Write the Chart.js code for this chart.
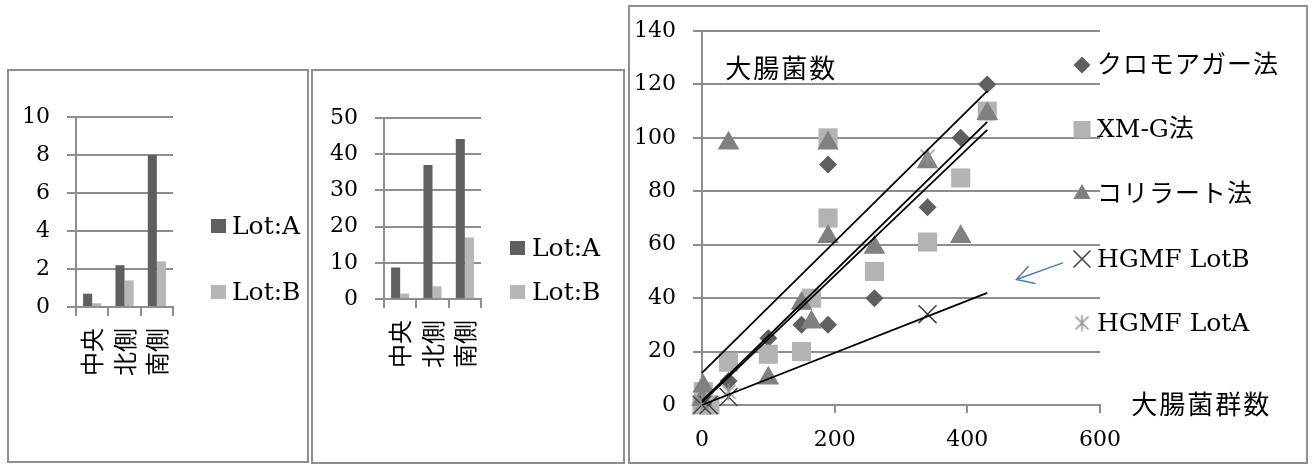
<!DOCTYPE html>
<html><head><meta charset="utf-8">
<script src="https://cdn.jsdelivr.net/npm/chart.js@4/dist/chart.umd.min.js"></script>
<style>
html,body{margin:0;padding:0;background:#fff}
body{width:1313px;height:465px;position:relative;overflow:hidden}
.panel{position:absolute;border:2px solid #8e8e8e;box-sizing:border-box;background:#fff}
canvas{display:block}
</style></head><body>
<div class="panel" style="left:7px;top:69px;width:302px;height:394px"><canvas id="c1" width="298" height="390" style="width:298px;height:390px"></canvas></div>
<div class="panel" style="left:311px;top:69px;width:314px;height:395px"><canvas id="c2" width="310" height="391" style="width:310px;height:391px"></canvas></div>
<div class="panel" style="left:628px;top:5px;width:680px;height:459px"><canvas id="c3" width="676" height="455" style="width:676px;height:455px"></canvas></div>
<script>
// ---------- data ----------
const barCategories = ['中央', '北側', '南側'];
const barSeriesNames = ['Lot:A', 'Lot:B'];
const panel1LotA = [0.7, 2.2, 8.0];
const panel1LotB = [0.2, 1.4, 2.4];
const panel2LotA = [8.7, 37, 44.2];
const panel2LotB = [1.5, 3.5, 17];
const panel1YTicks = [0, 2, 4, 6, 8, 10];
const panel2YTicks = [0, 10, 20, 30, 40, 50];

const scatterSeriesNames = ['クロモアガー法', 'XM-G法', 'コリラート法', 'HGMF LotB', 'HGMF LotA'];
const chromoX = [0, 5, 40, 100, 150, 190, 190, 260, 340, 390, 430];
const chromoY = [0, 2, 9, 25, 30, 30, 90, 40, 74, 100, 120];
const xmgX = [0, 2, 12, 40, 100, 150, 165, 190, 190, 260, 340, 390, 430];
const xmgY = [0, 5, 0, 16, 19, 20, 40, 70, 100, 50, 61, 85, 110];
const colilertX = [0, 2, 40, 100, 150, 165, 190, 190, 260, 340, 390, 430];
const colilertY = [2, 7, 98, 10, 38, 31, 63, 98, 59, 91, 63, 109];
const hgmfBX = [0, 10, 40, 340];
const hgmfBY = [0, 0, 3, 34];
const hgmfAX = [0, 40, 340];
const hgmfAY = [1, 5, 93];
const trendX = [0, 430];
const trend1Y = [12, 117.5];
const trend2Y = [1.5, 106];
const trend3Y = [1, 103];
const trend4Y = [0, 42];
const arrowShaftX = [544, 474];
const arrowShaftY = [53.2, 47];
const arrowHeadX = [492.6, 474, 502.7];
const arrowHeadY = [52, 47, 45.5];
const scatterXTicks = [0, 200, 400, 600];
const scatterYTicks = [0, 20, 40, 60, 80, 100, 120, 140];
const yTitle = '大腸菌数';
const xTitle = '大腸菌群数';

// ---------- styles ----------
const serif = '"DejaVu Serif", "Noto Sans CJK JP", serif';
const cjk = '"Noto Sans CJK JP", sans-serif';
const gridCol = '#8e8e8e';
const colA = '#5f5f5f';
const colB = '#b6b6b6';
const zip = (xs, ys) => xs.map((x, i) => ({x: x, y: ys[i]}));

Chart.defaults.color = '#000';

function barChart(id, dataA, dataB, yTicks, g) {
  const legendPlugin = {
    id: 'barLegend' + id,
    afterDraw(chart) {
      const ctx = chart.ctx, a = chart.chartArea;
      ctx.save();
      chart.data.datasets.forEach((ds, i) => {
        const cy = a.top + g.legY[i];
        ctx.fillStyle = ds.backgroundColor;
        ctx.fillRect(a.right + g.legMark, cy - 7, 15, 14);
        ctx.fillStyle = '#000';
        ctx.font = '25px ' + serif;
        ctx.textBaseline = 'middle';
        ctx.textAlign = 'left';
        ctx.fillText(ds.label, a.right + g.legText, cy + 1);
      });
      ctx.restore();
    }
  };
  return new Chart(document.getElementById(id), {
    type: 'bar',
    data: {
      labels: barCategories,
      datasets: [
        {label: barSeriesNames[0], data: dataA, backgroundColor: colA, categoryPercentage: 0.56, barPercentage: 1},
        {label: barSeriesNames[1], data: dataB, backgroundColor: colB, categoryPercentage: 0.56, barPercentage: 1}
      ]
    },
    options: {
      responsive: false, animation: false, events: [],
      layout: {autoPadding: false, padding: {top: g.top, right: g.right, bottom: 0, left: 0}},
      plugins: {legend: {display: false}, tooltip: {enabled: false}},
      scales: {
        x: {
          grid: {drawOnChartArea: false, drawTicks: true, tickLength: 9, color: gridCol, lineWidth: 2, offset: true},
          border: {display: true, color: gridCol, width: 2},
          ticks: {minRotation: 90, maxRotation: 90, autoSkip: false, padding: g.xPad, font: {family: cjk, size: 24}, color: '#000'},
          afterFit: s => { s.height = g.xH; }
        },
        y: {
          min: yTicks[0], max: yTicks[yTicks.length - 1],
          grid: {color: gridCol, lineWidth: 2, tickLength: 9},
          border: {display: true, color: gridCol, width: 2},
          ticks: {padding: 17, font: {family: serif, size: 22}, color: '#000'},
          afterBuildTicks: s => { s.ticks = yTicks.map(v => ({value: v})); },
          afterFit: s => { s.width = g.yW; s.paddingTop = 0; s.paddingBottom = 0; }
        }
      }
    },
    plugins: [legendPlugin]
  });
}

barChart('c1', panel1LotA, panel1LotB, panel1YTicks,
  {top: 46, right: 134, yW: 67, xH: 154, xPad: 12, legMark: 38, legText: 59, legY: [109, 175]});
barChart('c2', panel2LotA, panel2LotB, panel2YTicks,
  {top: 47, right: 142, yW: 71, xH: 163, xPad: 12, legMark: 29, legText: 51, legY: [130, 174]});

// ---------- scatter ----------
function makeAsterisk(size, color) {
  const c = document.createElement('canvas');
  c.width = size; c.height = size;
  const g = c.getContext('2d');
  const m = size / 2, d = size / 2 - 2;
  g.strokeStyle = color; g.lineWidth = 1.6;
  g.beginPath();
  g.moveTo(m - d, m - d); g.lineTo(m + d, m + d);
  g.moveTo(m + d, m - d); g.lineTo(m - d, m + d);
  g.moveTo(m, 0.5); g.lineTo(m, size - 0.5);
  g.stroke();
  return c;
}
const asteriskPlot = makeAsterisk(18, '#959595');
const asteriskLegend = makeAsterisk(17, '#959595');

const seriesStyles = [
  {pointStyle: 'rectRot', radius: 9, bg: '#5f5f5f', bw: 0, legR: 8.5},
  {pointStyle: 'rect', radius: 13.5, bg: '#b3b3b3', bw: 0, legR: 12},
  {pointStyle: 'triangle', radius: 12.5, bg: '#808080', bw: 0, legR: 10},
  {pointStyle: 'crossRot', radius: 12.7, bg: '#404040', bw: 1.5, legR: 12},
  {pointStyle: asteriskPlot, radius: 9, bg: '#959595', bw: 1.5, legR: 9, legImg: asteriskLegend}
];
const seriesData = [zip(chromoX, chromoY), zip(xmgX, xmgY), zip(colilertX, colilertY), zip(hgmfBX, hgmfBY), zip(hgmfAX, hgmfAY)];

const scatterSets = seriesData.map((d, i) => ({
  label: scatterSeriesNames[i], data: d,
  pointStyle: seriesStyles[i].pointStyle, pointRadius: seriesStyles[i].radius,
  backgroundColor: seriesStyles[i].bg, borderColor: seriesStyles[i].bg,
  borderWidth: seriesStyles[i].bw, showLine: false, clip: false, order: 10 - i
}));
const lineSet = (ys, col, w) => ({
  data: zip(trendX, ys), showLine: true, pointRadius: 0, borderColor: col, borderWidth: w,
  backgroundColor: col, clip: false, order: 0, fill: false
});
const trendSets = [trend1Y, trend2Y, trend3Y, trend4Y].map(ys => lineSet(ys, '#000', 1.8));
const arrowSets = [
  {data: zip(arrowShaftX, arrowShaftY), showLine: true, pointRadius: 0, borderColor: '#4a7ebb', borderWidth: 1.5, clip: false, order: 0},
  {data: zip(arrowHeadX, arrowHeadY), showLine: true, pointRadius: 0, borderColor: '#4a7ebb', borderWidth: 1.5, clip: false, order: 0}
];

function drawLegendMarker(ctx, st, x, y) {
  const r = st.legR;
  ctx.fillStyle = st.bg; ctx.strokeStyle = st.bg; ctx.lineWidth = 1.5;
  ctx.beginPath();
  if (st.pointStyle === 'rectRot') {
    ctx.moveTo(x, y - r); ctx.lineTo(x + r, y); ctx.lineTo(x, y + r); ctx.lineTo(x - r, y); ctx.closePath(); ctx.fill();
  } else if (st.pointStyle === 'rect') {
    const s = r * 0.707; ctx.rect(x - s, y - s, 2 * s, 2 * s); ctx.fill();
  } else if (st.pointStyle === 'triangle') {
    const h = r * 0.87;
    ctx.moveTo(x, y - r); ctx.lineTo(x + h, y + r / 2); ctx.lineTo(x - h, y + r / 2); ctx.closePath(); ctx.fill();
  } else if (st.pointStyle === 'crossRot') {
    const s = r * 0.707;
    ctx.moveTo(x - s, y - s); ctx.lineTo(x + s, y + s); ctx.moveTo(x + s, y - s); ctx.lineTo(x - s, y + s); ctx.stroke();
  } else if (st.legImg) {
    ctx.drawImage(st.legImg, x - st.legImg.width / 2, y - st.legImg.height / 2);
  }
}

const scatterDeco = {
  id: 'scatterDeco',
  afterDraw(chart) {
    const ctx = chart.ctx, a = chart.chartArea, xs = chart.scales.x, ys = chart.scales.y;
    ctx.save();
    const legY = [34, 98.5, 163, 228, 292];
    scatterSeriesNames.forEach((name, i) => {
      const cy = a.top + legY[i];
      drawLegendMarker(ctx, seriesStyles[i], a.right - 18, cy);
      ctx.fillStyle = '#000';
      ctx.font = '25px ' + serif;
      ctx.textBaseline = 'middle'; ctx.textAlign = 'left';
      ctx.letterSpacing = /^[A-Z]/.test(name) ? '0px' : '1px';
      ctx.fillText(name, a.right - 3, cy + 1);
    });
    ctx.letterSpacing = '2px';
    ctx.font = '26px ' + cjk;
    ctx.fillText(yTitle, xs.getPixelForValue(35), ys.getPixelForValue(126.2));
    ctx.fillText(xTitle, xs.getPixelForValue(647), ys.getPixelForValue(0.3));
    ctx.restore();
  }
};

new Chart(document.getElementById('c3'), {
  type: 'scatter',
  data: {datasets: trendSets.concat(arrowSets, scatterSets)},
  options: {
    responsive: false, animation: false, events: [],
    layout: {autoPadding: false, padding: {top: 24, right: 206, bottom: 0, left: 0}},
    plugins: {legend: {display: false}, tooltip: {enabled: false}},
    scales: {
      x: {
        type: 'linear', min: 0, max: 600,
        grid: {drawOnChartArea: false, drawTicks: true, tickLength: 8, color: gridCol, lineWidth: 2},
        border: {display: true, color: gridCol, width: 2},
        ticks: {padding: 14, font: {family: serif, size: 22}, color: '#000'},
        afterBuildTicks: s => { s.ticks = scatterXTicks.map(v => ({value: v})); },
        afterFit: s => { s.height = 57; s.paddingLeft = 0; s.paddingRight = 0; }
      },
      y: {
        type: 'linear', min: 0, max: 140,
        grid: {color: gridCol, lineWidth: 2, tickLength: 9},
        border: {display: true, color: gridCol, width: 2},
        ticks: {padding: 17, font: {family: serif, size: 22}, color: '#000'},
        afterBuildTicks: s => { s.ticks = scatterYTicks.map(v => ({value: v})); },
        afterFit: s => { s.width = 72; s.paddingTop = 0; s.paddingBottom = 0; }
      }
    }
  },
  plugins: [scatterDeco]
});
</script>
</body></html>
